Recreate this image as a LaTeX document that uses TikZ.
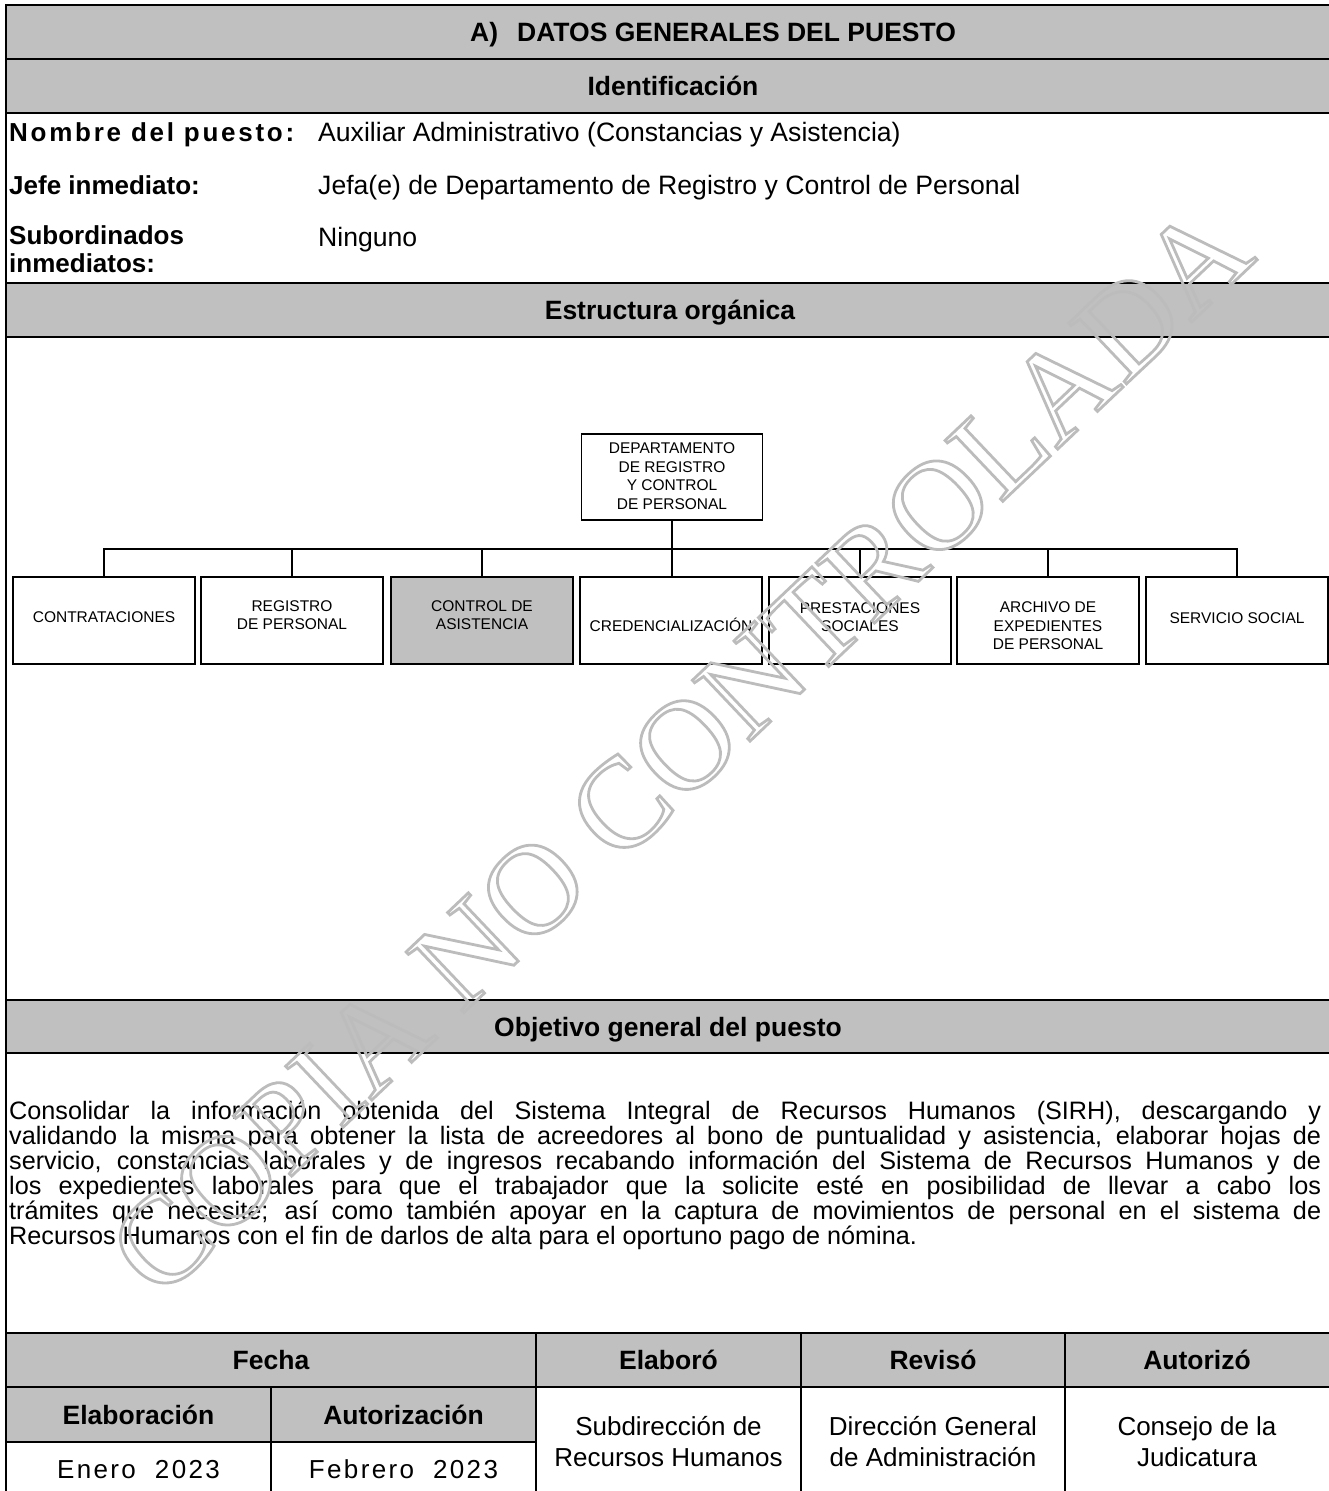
\documentclass[tikz,border=0pt]{standalone}
\usepackage{fontspec}
\setmainfont{Liberation Sans}
\newfontfamily\stampfont{Liberation Serif}
\definecolor{hdrgray}{RGB}{192,192,192}
\definecolor{stampgray}{RGB}{188,188,188}
% hollow (stroked) glyphs for the watermark
\newcommand\hollowtext[1]{\special{pdf:literal direct 1 Tr 2.8 w}#1\special{pdf:literal direct 0 Tr}}

\begin{document}
\begin{tikzpicture}[x=1pt,y=-1pt,
  rule/.style={line width=2pt},
  link/.style={line width=1.3pt},
  hdr/.style={font=\fontsize{26.5}{30}\selectfont\bfseries, inner sep=0pt, anchor=base},
  lbl/.style={font=\fontsize{26}{28}\selectfont\bfseries, inner sep=0pt, anchor=base west, align=left},
  val/.style={font=\fontsize{26.6}{28}\selectfont, inner sep=0pt, anchor=base west},
  body/.style={font=\fontsize{25.2}{25}\selectfont, inner sep=0pt, anchor=base west},
  cell/.style={font=\fontsize{26}{31}\selectfont, inner sep=0pt, align=center},
  datecell/.style={font=\fontsize{26}{30}\selectfont\addfontfeatures{LetterSpace=9}, inner sep=0pt, anchor=base},
  orgbox/.style={draw, line width=1.3pt, minimum width=182pt, minimum height=87pt, inner sep=0pt},
  orgtext/.style={font=\fontsize{15.5}{18.5}\selectfont, align=center, inner sep=0pt},
  stamp/.style={font=\stampfont\fontsize{128}{128}\selectfont, text=stampgray, rotate=43.5, inner sep=0pt}
]
\useasboundingbox (0,0) rectangle (1329,1491);

% shaded header bands
\fill[hdrgray] (6,5) rectangle (1335,113);
\fill[hdrgray] (6,283) rectangle (1335,337);
\fill[hdrgray] (6,1000) rectangle (1335,1053);
\fill[hdrgray] (6,1333) rectangle (1335,1387);
\fill[hdrgray] (6,1387) rectangle (536,1442);

% table rules
\foreach \yy in {5,59,113,283,337,1000,1053,1333,1387}
  \draw[rule] (6,\yy) -- (1335,\yy);
\draw[rule] (6,1442) -- (536,1442);
\draw[rule] (6,4) -- (6,1495);
\draw[rule] (271,1387) -- (271,1495);
\foreach \xx in {536,801,1065}
  \draw[rule] (\xx,1333) -- (\xx,1495);

% section headings
\node[hdr, anchor=base west] (title) at (470,41) {A)\hspace{19pt}DATOS GENERALES DEL PUESTO};
\node[hdr] (ident) at (673,95) {Identificación};
\node[hdr] (estr) at (670,319) {Estructura orgánica};
\node[hdr] (objt) at (668,1036) {Objetivo general del puesto};

% identification rows
\node[lbl] (nomk) at (9,141) {\addfontfeatures{LetterSpace=10.5}Nombre del puesto:};
\node[val] (nomv) at (318,141) {Auxiliar Administrativo (Constancias y Asistencia)};
\node[lbl] (jefk) at (9,194) {Jefe inmediato:};
\node[val] (jefv) at (318,194) {Jefa(e) de Departamento de Registro y Control de Personal};
\node[lbl] (subk) at (9,272) {Subordinados\\inmediatos:};
\node[val] (subv) at (318,246) {Ninguno};

% organisation chart
\node[orgbox, minimum width=181pt, minimum height=86pt] (dept) at (672,477) {};
\node[orgtext] (deptt) at (672,476) {DEPARTAMENTO\\DE REGISTRO\\Y CONTROL\\DE PERSONAL};

\node[orgbox] (contr) at (104,620.5) {};
\node[orgbox] (reg)   at (292,620.5) {};
\node[orgbox, fill=hdrgray] (ctrl) at (482,620.5) {};
\node[orgbox] (cred)  at (671,620.5) {};
\node[orgbox] (prest) at (860,620.5) {};
\node[orgbox] (arch)  at (1048,620.5) {};
\node[orgbox] (serv)  at (1237,620.5) {};

\node[orgtext] (contrt) at (104,617) {CONTRATACIONES};
\node[orgtext] (regt)   at (292,615) {REGISTRO\\DE PERSONAL};
\node[orgtext] (ctrlt)  at (482,615) {CONTROL DE\\ASISTENCIA};
\node[orgtext] (credt)  at (671,625) {CREDENCIALIZACIÓN};
\node[orgtext] (prestt) at (860,617) {PRESTACIONES\\SOCIALES};
\node[orgtext] (archt)  at (1048,626) {ARCHIVO DE\\EXPEDIENTES\\DE PERSONAL};
\node[orgtext] (servt)  at (1237,618) {SERVICIO SOCIAL};

\coordinate (bus) at (0,549);
\draw[link] (contr.north) -- (contr.north |- bus) -- (serv.north |- bus) -- (serv.north);
\foreach \b in {reg,ctrl,prest,arch}
  \draw[link] (\b.north) -- (\b.north |- bus);
\draw[link] (dept.south) -- (dept.south |- cred.north);

% objective text
\node[body] (obj1) at (9,1119) {\makebox[1312pt][s]{Consolidar la información obtenida del Sistema Integral de Recursos Humanos (SIRH), descargando y}};
\node[body] (obj2) at (9,1144) {\makebox[1312pt][s]{validando la misma para obtener la lista de acreedores al bono de puntualidad y asistencia, elaborar hojas de}};
\node[body] (obj3) at (9,1169) {\makebox[1312pt][s]{servicio, constancias laborales y de ingresos recabando información del Sistema de Recursos Humanos y de}};
\node[body] (obj4) at (9,1194) {\makebox[1312pt][s]{los expedientes laborales para que el trabajador que la solicite esté en posibilidad de llevar a cabo los}};
\node[body] (obj5) at (9,1219) {\makebox[1312pt][s]{trámites que necesite; así como también apoyar en la captura de movimientos de personal en el sistema de}};
\node[body] (obj6) at (9,1244) {Recursos Humanos con el fin de darlos de alta para el oportuno pago de nómina.};

% signature table
\node[hdr] (fecha) at (271,1369) {Fecha};
\node[hdr] (elab)  at (668.5,1369) {Elaboró};
\node[hdr] (revi)  at (933,1369) {Revisó};
\node[hdr] (autz)  at (1197,1369) {Autorizó};
\node[hdr] (felab) at (138.5,1424) {Elaboración};
\node[hdr] (faut)  at (403.5,1424) {Autorización};
\node[datecell] (fen)  at (138.5,1478) {Enero\ \ 2023};
\node[datecell] (ffeb) at (403.5,1478) {Febrero\ \ 2023};
\node[cell] (elabv) at (668.5,1442) {Subdirección de\\Recursos Humanos};
\node[cell] (reviv) at (933,1442) {Dirección General\\de Administración};
\node[cell] (autzv) at (1197,1442) {Consejo de la\\Judicatura};

% watermark
\node[stamp] (mark) at (680,750) {\hollowtext{COPIA NO CONTROLADA}};
\end{tikzpicture}
\end{document}
